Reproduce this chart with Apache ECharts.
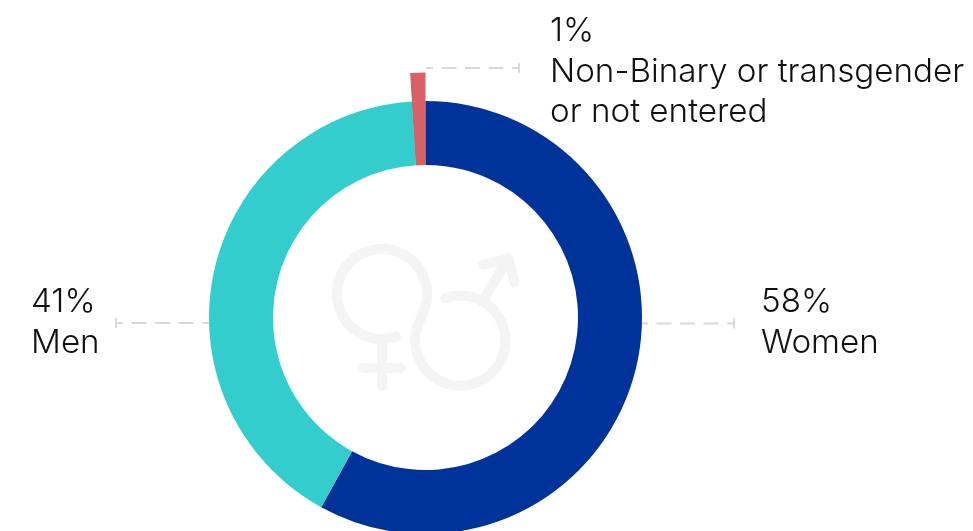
<!DOCTYPE html>
<html>
<head>
<meta charset="utf-8">
<style>html,body{margin:0;padding:0;background:#fff}#chart{width:973px;height:531px}</style>
<script src="https://cdn.jsdelivr.net/npm/echarts@6/dist/echarts.min.js"></script>
</head>
<body>
<div id="chart"></div>
<script>
const categories = ['Women', 'Men', 'Non-Binary or transgender\nor not entered'];
const shares = [58, 41, 1];
const sliceColors = ['#00339a', '#33cdcd', '#d66167'];

const FONT = 'Inter, Lato, sans-serif';
const center = [425.5, 317.5];
const ICON = '#f4f4f4';
const LEADER = '#d9d9d9';

const caption = (i, x, y) => ({
  type: 'text', x, y, silent: true,
  style: {
    text: shares[i] + '%\n' + categories[i],
    font: '300 33.2px ' + FONT,
    lineHeight: 40.5, fill: '#111', textAlign: 'left', textVerticalAlign: 'top'
  }
});

// dashes run from the end tick back towards the ring
const leader = (x1, x2, y) => ([
  { type: 'line', silent: true, shape: { x1: x2, y1: y, x2: x1, y2: y },
    style: { stroke: LEADER, lineWidth: 2, lineDash: [15, 8.5], lineDashOffset: 8 } },
  { type: 'line', silent: true, shape: { x1: x2, y1: y - 5, x2, y2: y + 5 },
    style: { stroke: LEADER, lineWidth: 2 } }
]);

const iconStyle = { fill: null, stroke: ICON, lineWidth: 10, lineCap: 'round', lineJoin: 'round' };
const deg = a => a * Math.PI / 180;
const iconArc = (cx, cy, r, from, to) => ({
  type: 'arc', silent: true,
  shape: { cx, cy, r, startAngle: deg(from), endAngle: deg(to), clockwise: true },
  style: iconStyle
});
const iconLine = points => ({
  type: 'polyline', silent: true, shape: { points }, style: iconStyle
});

const chart = echarts.init(document.getElementById('chart'), null, { renderer: 'canvas' });
chart.setOption({
  animation: false,
  backgroundColor: '#fff',
  series: [
    {
      // extended spoke for the smallest share, sits under the main ring
      type: 'pie', center, radius: [152.5, 245], startAngle: 90, clockwise: true,
      silent: true, label: { show: false }, labelLine: { show: false }, z: 2,
      data: shares.map((v, i) => ({
        value: v, name: categories[i],
        itemStyle: { color: i === 2 ? sliceColors[2] : 'transparent' }
      }))
    },
    {
      type: 'pie', center, radius: [152.5, 216.5], startAngle: 90, clockwise: true,
      silent: true, label: { show: false }, labelLine: { show: false }, z: 3,
      data: shares.map((v, i) => ({
        value: v, name: categories[i], itemStyle: { color: sliceColors[i] }
      }))
    }
  ],
  graphic: [
    // linked gender symbols in the ring's hole
    iconArc(382, 294, 45, 72, 390.8),
    iconArc(460.3, 340.7, 45, 250.5, 570.8),
    iconLine([[382, 340], [382, 386]]),
    iconLine([[363.5, 368], [400.5, 368]]),
    iconLine([[485.5, 296.5], [508.3, 258.3]]),
    iconLine([[483, 265], [508.3, 258.3], [514.5, 282.7]]),
    ...leader(642, 734, 323.5),
    ...leader(209, 116, 323),
    ...leader(426, 519, 68),
    caption(0, 761, 282),
    caption(1, 31, 282),
    caption(2, 550, 11)
  ]
});
</script>
</body>
</html>
